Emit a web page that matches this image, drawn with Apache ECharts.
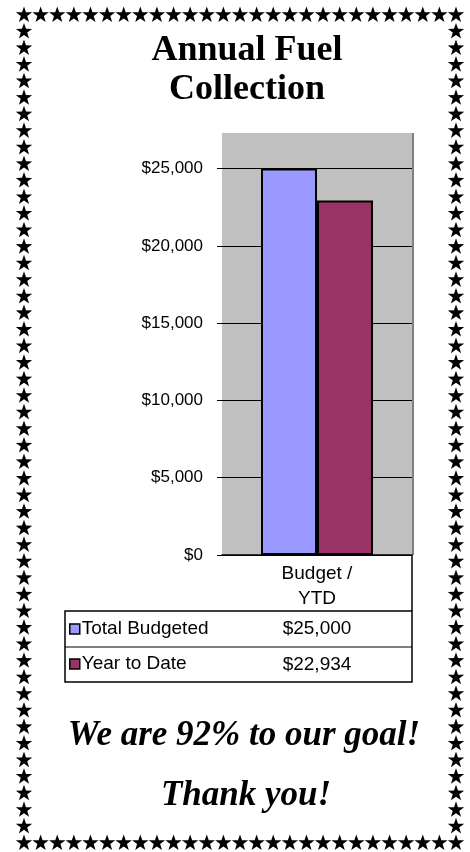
<!DOCTYPE html>
<html><head><meta charset="utf-8">
<script src="https://cdn.jsdelivr.net/npm/echarts@6/dist/echarts.min.js"></script>
<style>html,body{margin:0;padding:0;background:#fff}#c{width:470px;height:852px}</style>
</head><body><div id="c"></div>
<script>
// ---- data ----
const categories = ['Budget / YTD'];
const seriesNames = ['Total Budgeted', 'Year to Date'];
const budgetValues = [25000];
const ytdValues = [22934];
const yTickValues = [0, 5000, 10000, 15000, 20000, 25000];
const yMax = 27300;
const titleLines = ['Annual Fuel', 'Collection'];
const seriesColors = ['#9999FF', '#993366'];

function money(v) { return '$' + String(v).replace(/\B(?=(\d{3})+(?!\d))/g, ','); }
const pct = Math.round(ytdValues[0] / budgetValues[0] * 100);

// ---- star border (decoration) ----
function starPoints(cx, cy, R, r) {
  const pts = [];
  for (let i = 0; i < 10; i++) {
    const a = -Math.PI / 2 + i * Math.PI / 5;
    const rad = i % 2 === 0 ? R : r;
    pts.push([cx + rad * Math.cos(a), cy + rad * Math.sin(a)]);
  }
  return pts;
}
const stars = [];
const L = 24, Rt = 456, T = 15, B = 843;
const nH = 27, nV = 51;
function addStar(x, y) {
  stars.push({ type: 'polygon', silent: true, shape: { points: starPoints(x, y, 8.6, 3.4) }, style: { fill: '#000' } });
}
for (let i = 0; i < nH; i++) {
  const x = L + (Rt - L) * i / (nH - 1);
  addStar(x, T); addStar(x, B);
}
for (let j = 1; j < nV - 1; j++) {
  const y = T + (B - T) * j / (nV - 1);
  addStar(L, y); addStar(Rt, y);
}

// ---- data table (drawn under the chart) ----
const tblFont = '19px "Liberation Sans", Arial, sans-serif';
const tblL = 65, tblR = 412, tblT = 611, tblM = 647, tblB = 682, plotB = 555, valX = 317;
const tableEls = [
  { type: 'line', silent: true, shape: { x1: tblR, y1: plotB, x2: tblR, y2: tblT }, style: { stroke: '#000', lineWidth: 1.5 } },
  { type: 'rect', silent: true, shape: { x: tblL, y: tblT, width: tblR - tblL, height: tblB - tblT }, style: { fill: 'none', stroke: '#000', lineWidth: 1.5 } },
  { type: 'line', silent: true, shape: { x1: tblL, y1: tblM, x2: tblR, y2: tblM }, style: { stroke: '#000', lineWidth: 1 } },
  { type: 'line', silent: true, shape: { x1: 413, y1: 133, x2: 413, y2: plotB }, style: { stroke: '#808080', lineWidth: 2 } },
  { type: 'text', silent: true, style: { x: valX, y: (tblT + tblM) / 2, text: money(budgetValues[0]), align: 'center', verticalAlign: 'middle', font: tblFont, fill: '#000' } },
  { type: 'text', silent: true, style: { x: valX, y: (tblM + tblB) / 2, text: money(ytdValues[0]), align: 'center', verticalAlign: 'middle', font: tblFont, fill: '#000' } },
  { type: 'text', silent: true, style: { x: 244, y: 736, text: 'We are ' + pct + '% to our goal!', align: 'center', verticalAlign: 'middle', font: 'italic bold 35px "Liberation Serif", serif', fill: '#000' } },
  { type: 'text', silent: true, style: { x: 246, y: 796, text: 'Thank you!', align: 'center', verticalAlign: 'middle', font: 'italic bold 35px "Liberation Serif", serif', fill: '#000' } }
];

const chart = echarts.init(document.getElementById('c'), null, { renderer: 'canvas' });
chart.setOption({
  backgroundColor: '#fff',
  animation: false,
  title: {
    text: titleLines.join('\n'), left: 242, top: 26, textAlign: 'center',
    textStyle: { fontFamily: '"Liberation Serif", serif', fontWeight: 'bold', fontSize: 36, lineHeight: 39, color: '#000' }
  },
  legend: {
    orient: 'vertical', left: 64, top: 614, itemGap: 15, itemWidth: 10, itemHeight: 10, icon: 'rect',
    selectedMode: false,
    textStyle: { fontFamily: '"Liberation Sans", Arial, sans-serif', fontSize: 19, lineHeight: 20, color: '#000', padding: [0, 0, 0, -3] },
    data: seriesNames.map(n => ({ name: n, itemStyle: { borderColor: '#000', borderWidth: 1.5 } }))
  },
  grid: { left: 222, right: 58, top: 133, bottom: 852 - 555, show: true, backgroundColor: '#C0C0C0', borderWidth: 0, containLabel: false },
  xAxis: {
    type: 'category', data: categories,
    axisLine: { show: true, lineStyle: { color: '#000', width: 1.5 } },
    axisTick: { show: false },
    axisLabel: { margin: 6, lineHeight: 25, fontFamily: '"Liberation Sans", Arial, sans-serif', fontSize: 19, color: '#000', formatter: v => v.replace(' / ', ' /\n') }
  },
  yAxis: {
    type: 'value', min: 0, max: yMax, interval: 5000,
    axisLine: { show: false },
    axisTick: { show: true, length: 5, lineStyle: { color: '#000', width: 1 } },
    axisLabel: { margin: 19, showMaxLabel: false, fontFamily: '"Liberation Sans", Arial, sans-serif', fontSize: 17, color: '#000',
      formatter: v => (yTickValues.indexOf(v) >= 0 ? money(v) : '') },
    splitLine: { show: true, showMaxLine: false, lineStyle: { color: '#000', width: 1 } }
  },
  series: [
    { name: seriesNames[0], type: 'bar', data: budgetValues, barWidth: 56, barGap: '0%',
      itemStyle: { color: seriesColors[0], borderColor: '#000', borderWidth: 2 } },
    { name: seriesNames[1], type: 'bar', data: ytdValues, barWidth: 56, barGap: '0%',
      itemStyle: { color: seriesColors[1], borderColor: '#000', borderWidth: 2 } }
  ],
  graphic: { elements: stars.concat(tableEls) }
});
</script></body></html>
